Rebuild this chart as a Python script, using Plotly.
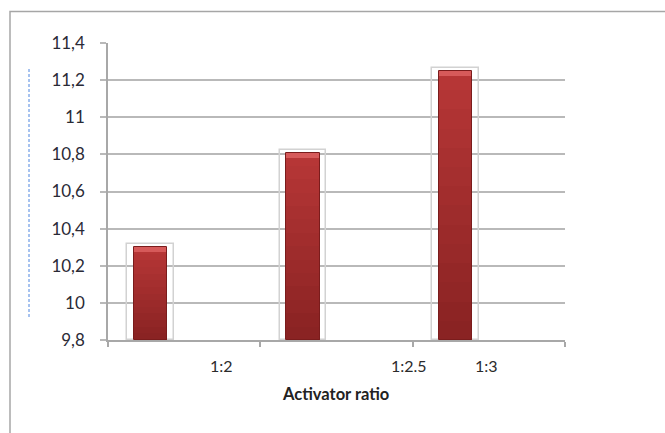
import plotly.graph_objects as go

# ---- data ----
categories = ["1:2", "1:2.5", "1:3"]
values = [10.30, 10.81, 11.25]
y_ticks = [9.8, 10.0, 10.2, 10.4, 10.6, 10.8, 11.0, 11.2, 11.4]
y_tick_labels = ["9,8", "10", "10,2", "10,4", "10,6", "10,8", "11", "11,2", "11,4"]
axis_title = "Activator ratio"

# ---- styling / layout constants ----
Y_MIN, Y_MAX = 9.8, 11.4
BAR_OFFSET = -0.22          # bar sits at the left slot of a 3-slot cluster
BAR_WIDTH = 0.22
GHOST_WIDTH = 0.305
GHOST_PAD = 0.016
LABEL_SHIFT = [0.246, 0.475, -0.018]
FONT = "Lato, 'Open Sans', sans-serif"
GRID = "#B9B9B9"
AXIS = "#A8A8A8"

x_pos = [i + BAR_OFFSET for i in range(len(categories))]

fig = go.Figure()

# light outline frames behind the bars
fig.add_trace(go.Bar(
    x=x_pos, y=[v + GHOST_PAD - Y_MIN for v in values], base=Y_MIN,
    width=GHOST_WIDTH,
    marker=dict(color="rgba(0,0,0,0)", line=dict(color="#D2D2D2", width=1.5)),
    hoverinfo="skip", showlegend=False,
))

# bar body as vertical gradient slices (dark at bottom, lighter at top)
N = 14
c_bot = (138, 35, 35)
c_top = (182, 54, 54)
for k in range(N):
    t = k / (N - 1)
    col = "rgb({},{},{})".format(*[round(a + (b - a) * t) for a, b in zip(c_bot, c_top)])
    fig.add_trace(go.Bar(
        x=x_pos,
        base=[Y_MIN + (v - Y_MIN) * k / N for v in values],
        y=[(v - Y_MIN) / N for v in values],
        width=BAR_WIDTH,
        marker=dict(color=col, line=dict(width=0)),
        hoverinfo="skip", showlegend=False,
    ))

# bevel highlight at the top of each bar
CAP = 0.028
fig.add_trace(go.Bar(
    x=x_pos, base=[v - CAP for v in values], y=[CAP] * len(values),
    width=BAR_WIDTH,
    marker=dict(color="#D65A5A", line=dict(width=0)),
    hoverinfo="skip", showlegend=False,
))

# dark edge around each bar
fig.add_trace(go.Bar(
    x=x_pos, y=[v - Y_MIN for v in values], base=Y_MIN,
    width=BAR_WIDTH,
    marker=dict(color="rgba(0,0,0,0)", line=dict(color="#7A1C1C", width=1)),
    hovertemplate="%{customdata}: %{y}<extra></extra>",
    customdata=categories, showlegend=False,
))

# category labels placed along the axis
annotations = []
for i, lab in enumerate(categories):
    annotations.append(dict(
        x=i + LABEL_SHIFT[i], xref="x", y=0, yref="paper",
        yanchor="middle", yshift=-25, text=lab, showarrow=False,
        font=dict(family=FONT, size=16, color="#2B2B2B"),
    ))
annotations.append(dict(
    x=0.497, xref="paper", y=0, yref="paper", yanchor="middle", yshift=-54,
    text="<b>" + axis_title + "</b>", showarrow=False,
    font=dict(family=FONT, size=16.5, color="#222222"),
))

shapes = [
    # outer frame (top and left edges visible)
    dict(type="rect", xref="paper", yref="paper", xsizemode="pixel", ysizemode="pixel",
         xanchor=0, yanchor=0, x0=-98, x1=580, y0=-120, y1=328.5,
         line=dict(color="#A6A6A6", width=1.5), fillcolor="rgba(0,0,0,0)", layer="below"),
    # dashed marker line on the left
    dict(type="line", xref="paper", yref="paper", xsizemode="pixel", ysizemode="pixel",
         xanchor=0, yanchor=0, x0=-79, x1=-79, y0=23, y1=272,
         line=dict(color="#4F86E0", width=1, dash="3px,2px")),
]

fig.update_layout(
    width=665, height=433,
    margin=dict(l=108, r=100, t=43.4, b=93, pad=0),
    paper_bgcolor="white", plot_bgcolor="white",
    barmode="overlay", bargap=0,
    showlegend=False,
    annotations=annotations,
    shapes=shapes,
    xaxis=dict(
        range=[-0.5, 2.5],
        tickvals=[-0.5, 0.5, 1.5, 2.5], ticktext=["", "", "", ""],
        ticks="outside", ticklen=5, tickcolor=AXIS, tickwidth=1.5,
        showgrid=False, zeroline=False,
        showline=True, linecolor=AXIS, linewidth=1.5,
    ),
    yaxis=dict(
        range=[Y_MIN, Y_MAX],
        tickvals=y_ticks, ticktext=y_tick_labels,
        ticks="outside", ticklen=6, tickcolor=GRID, tickwidth=1.5,
        ticklabelstandoff=12,
        tickfont=dict(family=FONT, size=17, color="#2A2A36"),
        showgrid=True, gridcolor=GRID, gridwidth=1.5,
        zeroline=False,
        showline=True, linecolor=AXIS, linewidth=1.5,
    ),
)

fig.write_html("out.html")
